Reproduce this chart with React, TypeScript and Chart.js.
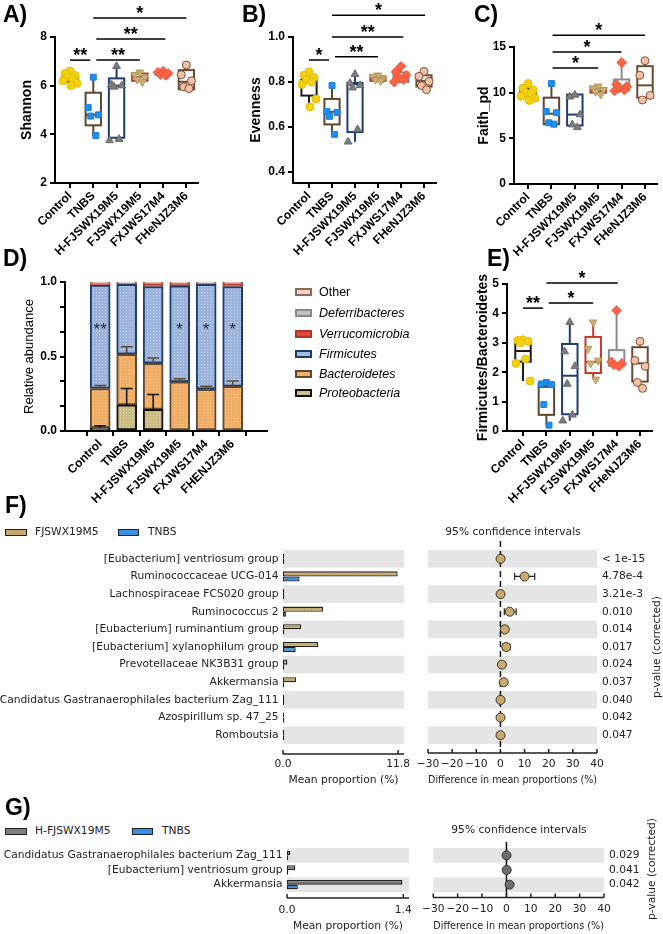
import React, { useEffect, useRef } from "react";
import { Chart, registerables } from "chart.js";

Chart.register(...registerables);

const SANS = "'Liberation Sans', Arial, Helvetica, sans-serif";
const DEJAVU = "'DejaVu Sans', Verdana, sans-serif";
Chart.defaults.font.family = SANS;
Chart.defaults.color = "#000";

// ---------------- categories ----------------
const GROUPS = ["Control", "TNBS", "H-FJSWX19M5", "FJSWX19M5", "FXJWS17M4", "FHeNJZ3M6"];
const GROUPS_D = ["Control", "TNBS", "H-FJSWX19M5", "FJSWX19M5", "FXJWS17M4", "FHENJZ3M6"];

// ---------------- A) Shannon ----------------
const SHANNON_CONTROL = [6.6, 6.5, 6.42, 6.35, 6.3, 6.2, 6.1, 6.0];
const SHANNON_TNBS = [6.35, 5.1, 4.8, 4.75, 3.95];
const SHANNON_HFJ = [6.8, 6.05, 6.0, 5.95, 3.8, 3.75];
const SHANNON_FJSW = [6.55, 6.45, 6.35, 6.25, 6.15];
const SHANNON_FXJ = [6.6, 6.55, 6.5, 6.45, 6.42];
const SHANNON_FHE = [6.85, 6.45, 6.2, 5.95, 5.88];
const SHANNON_Q1 = [6.15, 4.37, 3.86, 6.2, 6.45, 5.85];
const SHANNON_MEDIAN = [6.3, 4.8, 6.0, 6.35, 6.5, 6.16];
const SHANNON_Q3 = [6.45, 5.71, 6.3, 6.5, 6.56, 6.64];
const SHANNON_TICKS = [2, 4, 6, 8];

// ---------------- B) Evenness ----------------
const EVEN_CONTROL = [0.845, 0.83, 0.82, 0.81, 0.8, 0.79, 0.725, 0.69];
const EVEN_TNBS = [0.785, 0.67, 0.665, 0.648, 0.568];
const EVEN_HFJ = [0.835, 0.795, 0.785, 0.775, 0.59, 0.535];
const EVEN_FJSW = [0.83, 0.825, 0.815, 0.81, 0.805];
const EVEN_FXJ = [0.87, 0.845, 0.83, 0.82, 0.81, 0.8];
const EVEN_FHE = [0.847, 0.825, 0.803, 0.784, 0.766];
const EVEN_Q1 = [0.74, 0.612, 0.578, 0.805, 0.8, 0.78];
const EVEN_MEDIAN = [0.8, 0.668, 0.79, 0.815, 0.82, 0.805];
const EVEN_Q3 = [0.81, 0.725, 0.796, 0.825, 0.843, 0.83];
const EVEN_TICKS = [0.4, 0.6, 0.8, 1.0];

// ---------------- C) Faith_pd ----------------
const FAITH_CONTROL = [11.0, 10.5, 10.3, 10.0, 9.9, 9.6, 9.4, 9.15];
const FAITH_TNBS = [11.0, 7.95, 7.8, 6.7, 6.55];
const FAITH_HFJ = [9.75, 9.55, 7.6, 6.5, 6.2];
const FAITH_FJSW = [10.7, 10.5, 10.3, 10.1, 9.8];
const FAITH_FXJ = [13.3, 10.9, 10.7, 10.5, 10.3, 10.2];
const FAITH_FHE = [13.5, 11.9, 9.7, 9.2];
const FAITH_Q1 = [9.6, 6.55, 6.4, 10.0, 10.25, 9.45];
const FAITH_MEDIAN = [10.0, 7.7, 7.6, 10.2, 10.6, 10.8];
const FAITH_Q3 = [10.4, 9.45, 9.8, 10.5, 11.45, 12.9];
const FAITH_TICKS = [0, 5, 10, 15];

// ---------------- E) Firmicutes/Bacteroidetes ----------------
const FB_CONTROL = [3.1, 3.08, 3.05, 3.0, 2.45, 2.3, 1.7];
const FB_TNBS = [1.65, 1.6, 1.58, 0.9, 0.2];
const FB_HFJ = [3.7, 2.7, 2.2, 1.6, 0.55, 0.35];
const FB_FJSW = [3.7, 2.8, 2.4, 2.3, 1.75];
const FB_FXJ = [4.1, 2.35, 2.3, 2.25, 2.2];
const FB_FHE = [3.05, 2.4, 2.2, 1.65, 1.45];
const FB_Q1 = [2.36, 0.55, 0.57, 1.97, 2.22, 1.68];
const FB_MEDIAN = [2.72, 1.5, 1.88, 2.35, 2.3, 2.3];
const FB_Q3 = [3.0, 1.6, 2.96, 3.2, 2.75, 2.85];
const FB_TICKS = [0, 1, 2, 3, 4, 5];

// ---------------- D) Relative abundance (stacked) ----------------
const D_PROTEO = [0.02, 0.175, 0.145, 0.0, 0.0, 0.0];
const D_BACTERO = [0.265, 0.34, 0.31, 0.33, 0.28, 0.3];
const D_FIRMI = [0.695, 0.47, 0.515, 0.645, 0.705, 0.67];
const D_VERRU = [0.008, 0.005, 0.015, 0.015, 0.005, 0.015];
const D_DEFER = [0.002, 0.002, 0.003, 0.002, 0.002, 0.003];
const D_OTHER = [0.01, 0.008, 0.012, 0.008, 0.008, 0.012];
const D_PROTEO_ERR = [0.015, 0.11, 0.1, 0, 0, 0];
const D_BACTERO_ERR = [0.02, 0.05, 0.035, 0.02, 0.02, 0.035];
const D_STARS = ["**", "", "", "*", "*", "*"];
const D_STAR_LEVEL = 0.71;
const D_TICKS = [0, 0.5, 1.0];
const D_MINOR_TICKS = [1 / 6, 2 / 6, 4 / 6, 5 / 6];
const D_PHYLA = ["Other", "Deferribacteres", "Verrucomicrobia", "Firmicutes", "Bacteroidetes", "Proteobacteria"];

// ---------------- F) FJSWX19M5 vs TNBS ----------------
const F_TAXA = [
  "[Eubacterium] ventriosum group",
  "Ruminococcaceae UCG-014",
  "Lachnospiraceae FCS020 group",
  "Ruminococcus 2",
  "[Eubacterium] ruminantium group",
  "[Eubacterium] xylanophilum group",
  "Prevotellaceae NK3B31 group",
  "Akkermansia",
  "Candidatus Gastranaerophilales bacterium Zag_111",
  "Azospirillum sp. 47_25",
  "Romboutsia",
];
const F_FJSW_MEAN = [0.05, 11.75, 0.05, 4.1, 1.85, 3.6, 0.45, 1.35, 0.05, 0.02, 0.05];
const F_TNBS_MEAN = [0.0, 1.7, 0.0, 0.3, 0.05, 1.3, 0.05, 0.1, 0.0, 0.0, 0.02];
const F_DIFF = [0.05, 10.0, 0.05, 3.85, 1.8, 2.4, 0.6, 1.35, 0.05, 0.02, 0.03];
const F_CI_LO = [-0.1, 5.9, -0.1, 1.6, 0.6, 0.9, 0.0, 0.4, -0.1, -0.1, -0.1];
const F_CI_HI = [0.2, 14.2, 0.2, 6.5, 3.0, 3.9, 1.2, 2.2, 0.2, 0.15, 0.2];
const F_PVALS = ["< 1e-15", "4.78e-4", "3.21e-3", "0.010", "0.014", "0.017", "0.024", "0.037", "0.040", "0.042", "0.047"];
const F_MEAN_TICKS = [0, 11.8];
const DIFF_TICKS = [-30, -20, -10, 0, 10, 20, 30, 40];

// ---------------- G) H-FJSWX19M5 vs TNBS ----------------
const G_TAXA = ["Candidatus Gastranaerophilales bacterium Zag_111", "[Eubacterium] ventriosum group", "Akkermansia"];
const G_HFJ_MEAN = [0.04, 0.1, 1.39];
const G_TNBS_MEAN = [0.0, 0.0, 0.13];
const G_DIFF = [0.03, 0.08, 1.3];
const G_CI_LO = [0.0, 0.02, 0.4];
const G_CI_HI = [0.06, 0.14, 2.2];
const G_PVALS = ["0.029", "0.041", "0.042"];
const G_MEAN_TICKS = [0, 1.4];

// ---------------- styles ----------------
const PT_STYLE = ["circle", "rect", "triangle", "triangle", "rectRot", "circle"];
const PT_ROT = [0, 0, 0, 180, 0, 0];
const PT_FILL = ["#f5d20f", "#1e8ff0", "#7c7c7c", "#c8b07a", "#ff6347", "#f3c2a6"];
const PT_EDGE = ["#e2bd00", "#1a7fd6", "#6a6a6a", "#b09858", "#f0553a", "#7a5238"];
const PT_RADIUS = [4, 4.2, 4.5, 4.5, 4.8, 4];
const BOX_COLOR = ["#1a1a1a", "#5b4630", "#1f3d6e", "#c0392b", "#8c8c8c", "#6b4a32"];
const JITTER = [0, -0.22, 0.22, -0.11, 0.11, -0.3, 0.3, 0.04];
const BOX_HALF = 0.33;
const LBL = 10.7;

const fixW = (w: number) => (s: any) => {
  s.width = w;
  s.paddingTop = 0; s.paddingBottom = 0; s.paddingLeft = 0; s.paddingRight = 0;
};
const fixH = (h: number) => (s: any) => {
  s.height = h;
  s.paddingTop = 0; s.paddingBottom = 0; s.paddingLeft = 0; s.paddingRight = 0;
};

function stipple(base: string, dot: string) {
  const c = document.createElement("canvas");
  c.width = 3; c.height = 3;
  const g = c.getContext("2d")!;
  g.fillStyle = base; g.fillRect(0, 0, 3, 3);
  g.fillStyle = dot; g.fillRect(0, 0, 1, 1);
  return g.createPattern(c, "repeat");
}

// ---------------- plugins ----------------
function boxPlugin(points: number[][], q1: number[], med: number[], q3: number[]) {
  return {
    id: "boxes",
    beforeDatasetsDraw(chart: any) {
      const { ctx } = chart;
      const xs = chart.scales.x, ys = chart.scales.y;
      ctx.save();
      points.forEach((pts, i) => {
        const cx = xs.getPixelForValue(i);
        const xl = xs.getPixelForValue(i - BOX_HALF), xr = xs.getPixelForValue(i + BOX_HALF);
        const lo = Math.min(...pts), hi = Math.max(...pts);
        ctx.strokeStyle = BOX_COLOR[i];
        ctx.lineWidth = 2;
        const yt = ys.getPixelForValue(q3[i]), yb = ys.getPixelForValue(q1[i]);
        ctx.beginPath();
        ctx.moveTo(cx, ys.getPixelForValue(hi)); ctx.lineTo(cx, yt);
        ctx.moveTo(cx, yb); ctx.lineTo(cx, ys.getPixelForValue(lo));
        ctx.stroke();
        ctx.strokeRect(xl, yt, xr - xl, yb - yt);
        const ym = ys.getPixelForValue(med[i]);
        ctx.beginPath(); ctx.moveTo(xl, ym); ctx.lineTo(xr, ym); ctx.stroke();
      });
      ctx.restore();
    },
  };
}

type Bracket = { from: number; to: number; y: number; text: string };
function bracketPlugin(brackets: Bracket[]) {
  return {
    id: "brackets",
    afterDraw(chart: any) {
      const { ctx } = chart;
      const xs = chart.scales.x, ys = chart.scales.y;
      ctx.save();
      ctx.strokeStyle = "#000"; ctx.fillStyle = "#000"; ctx.lineWidth = 1.5;
      ctx.font = `bold 18px ${SANS}`; ctx.textAlign = "center"; ctx.textBaseline = "alphabetic";
      brackets.forEach((b) => {
        const x1 = xs.getPixelForValue(b.from), x2 = xs.getPixelForValue(b.to), y = ys.getPixelForValue(b.y);
        ctx.beginPath(); ctx.moveTo(x1, y); ctx.lineTo(x2, y); ctx.stroke();
        ctx.fillText(b.text, (x1 + x2) / 2, y + 1);
      });
      ctx.restore();
    },
  };
}

function boxPanel(p: {
  points: number[][]; q1: number[]; med: number[]; q3: number[];
  yMin: number; yMax: number; yTicks: number[]; digits: number;
  title: string; titlePad: number; xMin: number; xMax: number;
  yWidth: number; xHeight: number; padTop: number; padRight: number; brackets: Bracket[];
}) {
  return () => ({
    type: "scatter",
    data: {
      datasets: p.points.map((pts, g) => ({
        data: pts.map((v, k) => ({ x: g + JITTER[k % JITTER.length], y: v })),
        pointStyle: PT_STYLE[g], pointRotation: PT_ROT[g], pointRadius: PT_RADIUS[g],
        pointBackgroundColor: PT_FILL[g], pointBorderColor: PT_EDGE[g], pointBorderWidth: 1, clip: false,
      })),
    },
    options: {
      responsive: false, animation: false, events: [],
      layout: { padding: { top: p.padTop, right: p.padRight, left: 0, bottom: 0 } },
      plugins: { legend: { display: false }, tooltip: { enabled: false } },
      scales: {
        x: {
          type: "linear", min: p.xMin, max: p.xMax,
          afterBuildTicks: (s: any) => { s.ticks = GROUPS.map((_, i) => ({ value: i })); },
          ticks: { callback: (v: number) => GROUPS[v], minRotation: 45, maxRotation: 45, autoSkip: false, font: { size: 12, weight: "bold" }, color: "#000", padding: 1 },
          grid: { display: true, drawOnChartArea: false, drawTicks: true, tickLength: 5, color: "#000", lineWidth: 2 },
          border: { display: true, color: "#000", width: 2 },
          afterFit: fixH(p.xHeight),
        },
        y: {
          min: p.yMin, max: p.yMax,
          afterBuildTicks: (s: any) => { s.ticks = p.yTicks.map((v) => ({ value: v })); },
          ticks: { callback: (v: number) => v.toFixed(p.digits), font: { size: 12, weight: "bold" }, color: "#000", padding: 3 },
          grid: { display: true, drawOnChartArea: false, drawTicks: true, tickLength: 5, color: "#000", lineWidth: 2 },
          border: { display: true, color: "#000", width: 2 },
          title: { display: true, text: p.title, font: { size: 14, weight: "bold" }, color: "#000", padding: { top: p.titlePad, bottom: 0 } },
          afterFit: fixW(p.yWidth),
        },
      },
    },
    plugins: [boxPlugin(p.points, p.q1, p.med, p.q3), bracketPlugin(p.brackets)],
  });
}

function stackedPanel() {
  const sets = [
    { label: "Proteobacteria", data: D_PROTEO, fill: stipple("#c9bc82", "#ddd3a8"), edge: "#111" },
    { label: "Bacteroidetes", data: D_BACTERO, fill: stipple("#f0ad63", "#f8cd98"), edge: "#5d4a36" },
    { label: "Firmicutes", data: D_FIRMI, fill: stipple("#9cb4dc", "#c6d5ee"), edge: "#1e3c6e" },
    { label: "Verrucomicrobia", data: D_VERRU, fill: "#e0483c", edge: "#c0392b" },
    { label: "Deferribacteres", data: D_DEFER, fill: "#c0c0c0", edge: "#888" },
    { label: "Other", data: D_OTHER, fill: "#f4d2c4", edge: "#8a6a52" },
  ];
  const allTicks = [...D_TICKS, ...D_MINOR_TICKS].sort((a, b) => a - b);
  const errPlugin = {
    id: "derr",
    afterDatasetsDraw(chart: any) {
      const { ctx } = chart;
      const xs = chart.scales.x, ys = chart.scales.y;
      ctx.save();
      GROUPS_D.forEach((_, i) => {
        const cx = xs.getPixelForValue(i);
        const bar = (base: number, err: number, color: string) => {
          if (err <= 0) return;
          const y0 = ys.getPixelForValue(base), y1 = ys.getPixelForValue(base + err);
          ctx.strokeStyle = color; ctx.lineWidth = 1.5;
          ctx.beginPath(); ctx.moveTo(cx, y0); ctx.lineTo(cx, y1);
          ctx.moveTo(cx - 6, y1); ctx.lineTo(cx + 6, y1); ctx.stroke();
        };
        bar(D_PROTEO[i], D_PROTEO_ERR[i], "#111");
        bar(D_PROTEO[i] + D_BACTERO[i], D_BACTERO_ERR[i], "#5d4a36");
        if (D_STARS[i]) {
          ctx.fillStyle = "#2a2a3a"; ctx.font = `17px ${SANS}`; ctx.textAlign = "center"; ctx.textBaseline = "alphabetic";
          ctx.fillText(D_STARS[i], cx, ys.getPixelForValue(D_STAR_LEVEL) + 10);
        }
      });
      ctx.restore();
    },
  };
  return {
    type: "bar",
    data: {
      datasets: sets.map((s) => ({
        label: s.label, data: s.data.map((v, i) => ({ x: i, y: v })),
        backgroundColor: s.fill, borderColor: s.edge, borderWidth: 2, borderSkipped: false, barThickness: 20, clip: false,
      })),
    },
    options: {
      responsive: false, animation: false, events: [],
      layout: { padding: { top: 32, right: 23, left: 0, bottom: 0 } },
      plugins: { legend: { display: false }, tooltip: { enabled: false } },
      scales: {
        x: {
          type: "linear", stacked: true, min: -0.692, max: 5.66,
          afterBuildTicks: (s: any) => { s.ticks = GROUPS_D.map((_, i) => ({ value: i })); },
          ticks: { callback: (v: number) => GROUPS_D[v], minRotation: 45, maxRotation: 45, autoSkip: false, font: { size: 12, weight: "bold" }, color: "#000", padding: 1 },
          grid: { display: true, drawOnChartArea: false, drawTicks: true, tickLength: 5, color: "#000", lineWidth: 2 },
          border: { display: true, color: "#000", width: 2 },
          afterFit: fixH(99),
        },
        y: {
          stacked: true, min: 0, max: 1,
          afterBuildTicks: (s: any) => { s.ticks = allTicks.map((v) => ({ value: v })); },
          ticks: { autoSkip: false, callback: (v: number) => (D_TICKS.some((t) => Math.abs(t - v) < 1e-9) ? v.toFixed(1) : ""), font: { size: 12, weight: "bold" }, color: "#000", padding: 3 },
          grid: { display: true, drawOnChartArea: false, drawTicks: true, tickLength: 5, color: "#000", lineWidth: 2 },
          border: { display: true, color: "#000", width: 2 },
          title: { display: true, text: "Relative abundance", font: { size: 13 }, color: "#000", padding: { top: 22, bottom: 0 } },
          afterFit: fixW(65),
        },
      },
    },
    plugins: [errPlugin],
  };
}

function bandsPlugin(n: number) {
  return {
    id: "bands",
    beforeDatasetsDraw(chart: any) {
      const { ctx, chartArea: ca } = chart;
      const ys = chart.scales.y;
      const step = Math.abs(ys.getPixelForValue(1) - ys.getPixelForValue(0));
      ctx.save(); ctx.fillStyle = "#e5e5e5";
      for (let i = 0; i < n; i += 2) {
        const c = ys.getPixelForValue(i);
        ctx.fillRect(ca.left, c - step / 2, ca.right - ca.left, step);
      }
      ctx.restore();
    },
  };
}

function offsetAxisPlugin(offset: number, ticks: number[]) {
  return {
    id: "offAxis",
    afterDraw(chart: any) {
      const { ctx, chartArea: ca } = chart;
      const xs = chart.scales.x;
      const y = ca.bottom + offset;
      ctx.save(); ctx.strokeStyle = "#222"; ctx.lineWidth = 1.5;
      ctx.beginPath(); ctx.moveTo(ca.left, y); ctx.lineTo(ca.right, y);
      ticks.forEach((v) => { const x = xs.getPixelForValue(v); ctx.moveTo(x, y); ctx.lineTo(x, y - 4); });
      ctx.stroke(); ctx.restore();
    },
  };
}

function meanPanel(p: {
  taxa: string[]; a: number[]; b: number[]; aFill: any; bFill: string; max: number; ticks: number[];
  yWidth: number; xHeight: number; padTop: number; padRight: number; labelPad: number; titleBottom: number; axisOffset: number; catPct: number;
}) {
  return () => ({
    type: "bar",
    data: {
      labels: p.taxa,
      datasets: [
        { data: p.a, backgroundColor: p.aFill, borderColor: "#222", borderWidth: 1.3, borderSkipped: false, minBarLength: 1.3, categoryPercentage: p.catPct, barPercentage: 1 },
        { data: p.b, backgroundColor: p.bFill, borderColor: "#222", borderWidth: 1.3, borderSkipped: false, minBarLength: 1.3, categoryPercentage: p.catPct, barPercentage: 1 },
      ],
    },
    options: {
      indexAxis: "y", responsive: false, animation: false, events: [],
      layout: { padding: { top: p.padTop, right: p.padRight, left: 0, bottom: 0 } },
      plugins: { legend: { display: false }, tooltip: { enabled: false } },
      scales: {
        x: {
          min: 0, max: p.max,
          afterBuildTicks: (s: any) => { s.ticks = p.ticks.map((v) => ({ value: v })); },
          ticks: { callback: (v: number) => v.toFixed(1), minRotation: 0, maxRotation: 0, autoSkip: false, font: { family: DEJAVU, size: LBL }, color: "#222", padding: p.labelPad },
          grid: { display: false, drawTicks: false }, border: { display: false },
          title: { display: true, text: "Mean proportion (%)", font: { family: DEJAVU, size: LBL }, color: "#222", padding: { top: 0, bottom: p.titleBottom } },
          afterFit: fixH(p.xHeight),
        },
        y: {
          grid: { display: false, drawTicks: false }, border: { display: false },
          ticks: { autoSkip: false, font: { family: DEJAVU, size: LBL }, color: "#222", padding: 4.5 },
          afterFit: fixW(p.yWidth),
        },
      },
    },
    plugins: [bandsPlugin(p.taxa.length), offsetAxisPlugin(p.axisOffset, p.ticks)],
  });
}

function ciPanel(p: {
  taxa: string[]; pvals: string[]; diff: number[]; lo: number[]; hi: number[]; fill: string; edge: string;
  padTop: number; padLeft: number; y2Width: number; xHeight: number; labelPad: number; titleBottom: number;
  axisOffset: number; dashed: boolean; zeroTop: number;
}) {
  const ciPlugin = {
    id: "ci",
    beforeDatasetsDraw(chart: any) {
      const { ctx, chartArea: ca } = chart;
      const xs = chart.scales.x, ys = chart.scales.y;
      const step = Math.abs(ys.getPixelForValue(1) - ys.getPixelForValue(0));
      ctx.save();
      ctx.fillStyle = "#e5e5e5";
      for (let i = 0; i < p.taxa.length; i += 2) {
        const c = ys.getPixelForValue(i);
        ctx.fillRect(ca.left, c - step / 2, ca.right - ca.left, step);
      }
      const x0 = xs.getPixelForValue(0);
      ctx.strokeStyle = "#111"; ctx.lineWidth = 1.5;
      if (p.dashed) ctx.setLineDash([6, 4]);
      ctx.beginPath(); ctx.moveTo(x0, ca.top - p.zeroTop); ctx.lineTo(x0, ca.bottom + p.axisOffset); ctx.stroke();
      ctx.setLineDash([]);
      ctx.strokeStyle = "#222"; ctx.lineWidth = 1.2;
      p.diff.forEach((_, i) => {
        const y = ys.getPixelForValue(i);
        const a = xs.getPixelForValue(p.lo[i]), b = xs.getPixelForValue(p.hi[i]);
        ctx.beginPath(); ctx.moveTo(a, y); ctx.lineTo(b, y);
        ctx.moveTo(a, y - 3.5); ctx.lineTo(a, y + 3.5); ctx.moveTo(b, y - 3.5); ctx.lineTo(b, y + 3.5);
        ctx.stroke();
      });
      ctx.restore();
    },
  };
  return () => ({
    type: "scatter",
    data: {
      datasets: [{
        data: p.diff.map((v, i) => ({ x: v, y: p.taxa[i] })),
        pointRadius: 4.5, pointBackgroundColor: p.fill, pointBorderColor: p.edge, pointBorderWidth: 1, clip: false,
      }],
    },
    options: {
      responsive: false, animation: false, events: [],
      layout: { padding: { top: p.padTop, left: p.padLeft, right: 0, bottom: 0 } },
      plugins: { legend: { display: false }, tooltip: { enabled: false } },
      scales: {
        x: {
          type: "linear", min: -30, max: 40,
          afterBuildTicks: (s: any) => { s.ticks = DIFF_TICKS.map((v) => ({ value: v })); },
          ticks: { callback: (v: number) => (v < 0 ? "\u2212" + Math.abs(v) : String(v)), minRotation: 0, maxRotation: 0, autoSkip: false, font: { family: DEJAVU, size: LBL }, color: "#222", padding: p.labelPad },
          grid: { display: false, drawTicks: false }, border: { display: false },
          title: { display: true, text: "Difference in mean proportions (%)", font: { family: DEJAVU, size: LBL }, color: "#222", padding: { top: 0, bottom: p.titleBottom } },
          afterFit: fixH(p.xHeight),
        },
        y: { type: "category", labels: p.taxa, offset: true, display: false },
        y2: {
          type: "category", labels: p.pvals, offset: true, position: "right",
          grid: { display: false, drawTicks: false }, border: { display: false },
          ticks: { autoSkip: false, font: { family: DEJAVU, size: LBL }, color: "#222", padding: 5 },
          afterFit: fixW(p.y2Width),
        },
      },
    },
    plugins: [ciPlugin, offsetAxisPlugin(p.axisOffset, DIFF_TICKS)],
  });
}

// ---------------- components ----------------
function Panel({ left, top, width, height, make }: any) {
  const ref = useRef<HTMLCanvasElement>(null);
  useEffect(() => {
    const chart = new Chart(ref.current as HTMLCanvasElement, make());
    return () => chart.destroy();
  }, []);
  return <canvas ref={ref} width={width} height={height} style={{ position: "absolute", left, top, width, height }} />;
}

function Txt({ x, y, children, align = "left", size = 12, weight = "normal", family = SANS, italic = false, color = "#000", rotate = 0 }: any) {
  const tx = align === "center" ? "-50%" : align === "right" ? "-100%" : "0";
  return (
    <div style={{
      position: "absolute", left: x, top: y, whiteSpace: "nowrap",
      transform: `translate(${tx},-50%)${rotate ? ` rotate(${rotate}deg)` : ""}`,
      fontFamily: family, fontSize: size, fontWeight: weight, fontStyle: italic ? "italic" : "normal", color, lineHeight: 1.15,
    }}>{children}</div>
  );
}

function Swatch({ x, y, w, h, fill, edge, bw = 2 }: any) {
  return <div style={{ position: "absolute", left: x, top: y - h / 2, width: w, height: h, background: fill, border: `${bw}px solid ${edge}`, boxSizing: "border-box" }} />;
}

const D_LEGEND_FILL = ["#f4d2c4", "#c4c4c4", "#e0483c", "#a3bbe0", "#f2b068", "#cdbf86"];
const D_LEGEND_EDGE = ["#8a6a52", "#8a8a8a", "#b5322a", "#1e3c6e", "#5d4a36", "#111"];
const D_LEGEND_ITALIC = [false, true, true, true, true, true];

export default function App() {
  const makeA = boxPanel({
    points: [SHANNON_CONTROL, SHANNON_TNBS, SHANNON_HFJ, SHANNON_FJSW, SHANNON_FXJ, SHANNON_FHE],
    q1: SHANNON_Q1, med: SHANNON_MEDIAN, q3: SHANNON_Q3, yMin: 2, yMax: 8, yTicks: SHANNON_TICKS, digits: 0,
    title: "Shannon", titlePad: 19, xMin: -0.645, xMax: 5.5, yWidth: 55, xHeight: 77, padTop: 37, padRight: 23,
    brackets: [
      { from: 0, to: 0.87, y: 7.05, text: "**" },
      { from: 1.13, to: 3, y: 7.05, text: "**" },
      { from: 1.13, to: 4.1, y: 7.92, text: "**" },
      { from: 1, to: 5, y: 8.78, text: "*" },
    ],
  });
  const makeB = boxPanel({
    points: [EVEN_CONTROL, EVEN_TNBS, EVEN_HFJ, EVEN_FJSW, EVEN_FXJ, EVEN_FHE],
    q1: EVEN_Q1, med: EVEN_MEDIAN, q3: EVEN_Q3, yMin: 0.352, yMax: 1.0, yTicks: EVEN_TICKS, digits: 1,
    title: "Evenness", titlePad: 26.6, xMin: -0.696, xMax: 5.5, yWidth: 72, xHeight: 77, padTop: 37, padRight: 6.5,
    brackets: [
      { from: 0, to: 0.87, y: 0.898, text: "*" },
      { from: 1.13, to: 3, y: 0.912, text: "**" },
      { from: 1, to: 4.1, y: 1.0, text: "**" },
      { from: 1, to: 5.05, y: 1.097, text: "*" },
    ],
  });
  const makeC = boxPanel({
    points: [FAITH_CONTROL, FAITH_TNBS, FAITH_HFJ, FAITH_FJSW, FAITH_FXJ, FAITH_FHE],
    q1: FAITH_Q1, med: FAITH_MEDIAN, q3: FAITH_Q3, yMin: 0, yMax: 15, yTicks: FAITH_TICKS, digits: 0,
    title: "Faith_pd", titlePad: 33.6, xMin: -0.6, xMax: 5.5, yWidth: 72, xHeight: 76, padTop: 47, padRight: 6.3,
    brackets: [
      { from: 1.05, to: 3, y: 12.7, text: "*" },
      { from: 1.05, to: 4, y: 14.45, text: "*" },
      { from: 1.05, to: 5, y: 16.3, text: "*" },
    ],
  });
  const makeE = boxPanel({
    points: [FB_CONTROL, FB_TNBS, FB_HFJ, FB_FJSW, FB_FXJ, FB_FHE],
    q1: FB_Q1, med: FB_MEDIAN, q3: FB_Q3, yMin: 0, yMax: 5, yTicks: FB_TICKS, digits: 0,
    title: "Firmicutes/Bacteroidetes", titlePad: 24.6, xMin: -0.684, xMax: 5.5, yWidth: 57, xHeight: 99, padTop: 34, padRight: 11.3,
    brackets: [
      { from: 0, to: 0.85, y: 4.18, text: "**" },
      { from: 1.1, to: 3, y: 4.35, text: "*" },
      { from: 1, to: 4.05, y: 5.03, text: "*" },
    ],
  });
  const makeFL = () => meanPanel({
    taxa: F_TAXA, a: F_FJSW_MEAN, b: F_TNBS_MEAN, aFill: stipple("#c6a86c", "#d8c294"), bFill: "#3d8fe0",
    max: 12.4, ticks: F_MEAN_TICKS, yWidth: 283, xHeight: 51, padTop: 10, padRight: 6, labelPad: 14, titleBottom: 8.7, axisOffset: 10, catPct: 0.58,
  })();
  const makeFR = ciPanel({
    taxa: F_TAXA, pvals: F_PVALS, diff: F_DIFF, lo: F_CI_LO, hi: F_CI_HI, fill: "#c9ab70", edge: "#3a3020",
    padTop: 30, padLeft: 13, y2Width: 66, xHeight: 51, labelPad: 14, titleBottom: 8.7, axisOffset: 9, dashed: true, zeroTop: 9,
  });
  const makeGL = () => meanPanel({
    taxa: G_TAXA, a: G_HFJ_MEAN, b: G_TNBS_MEAN, aFill: "#7f7f7f", bFill: "#3d8fe0",
    max: 1.469, ticks: G_MEAN_TICKS, yWidth: 287, xHeight: 42, padTop: 10, padRight: 6, labelPad: 12, titleBottom: 1, axisOffset: 6, catPct: 0.64,
  })();
  const makeGR = ciPanel({
    taxa: G_TAXA, pvals: G_PVALS, diff: G_DIFF, lo: G_CI_LO, hi: G_CI_HI, fill: "#6e6e6e", edge: "#333",
    padTop: 28, padLeft: 18.3, y2Width: 59, xHeight: 42, labelPad: 11, titleBottom: 1, axisOffset: 5.5, dashed: false, zeroTop: 6,
  });

  const dRows = [292, 313, 333.5, 353.5, 373.5, 393];

  return (
    <div style={{ position: "absolute", left: 0, top: 0, width: 663, height: 934, background: "#fff", overflow: "hidden" }}>
      <Panel left={0} top={0} width={221} height={260} make={makeA} />
      <Panel left={221} top={0} width={221} height={260} make={makeB} />
      <Panel left={442} top={0} width={221} height={260} make={makeC} />
      <Panel left={0} top={250} width={290} height={280} make={stackedPanel} />
      <Panel left={450} top={250} width={213} height={280} make={makeE} />
      <Panel left={0} top={540} width={410} height={255} make={makeFL} />
      <Panel left={415} top={520} width={248} height={275} make={makeFR} />
      <Panel left={0} top={838} width={415} height={96} make={makeGL} />
      <Panel left={415} top={820} width={248} height={114} make={makeGR} />

      <Txt x={3} y={14} size={23} weight="bold">A)</Txt>
      <Txt x={242} y={14} size={23} weight="bold">B)</Txt>
      <Txt x={474} y={14} size={23} weight="bold">C)</Txt>
      <Txt x={3} y={258} size={23} weight="bold">D)</Txt>
      <Txt x={487} y={258} size={23} weight="bold">E)</Txt>
      <Txt x={5} y={505} size={23} weight="bold">F)</Txt>
      <Txt x={5} y={807} size={23} weight="bold">G)</Txt>

      {D_PHYLA.map((name, i) => (
        <React.Fragment key={name}>
          <Swatch x={295} y={dRows[i]} w={17} h={8} fill={D_LEGEND_FILL[i]} edge={D_LEGEND_EDGE[i]} />
          <Txt x={319} y={dRows[i]} size={12.5} italic={D_LEGEND_ITALIC[i]}>{name}</Txt>
        </React.Fragment>
      ))}

      <Swatch x={5} y={532} w={22} h={7} fill="#c6a86c" edge="#222" bw={1.3} />
      <Txt x={35} y={532} size={LBL} family={DEJAVU} color="#222">FJSWX19M5</Txt>
      <Swatch x={118} y={532} w={21} h={7} fill="#3d8fe0" edge="#222" bw={1.3} />
      <Txt x={148} y={532} size={LBL} family={DEJAVU} color="#222">TNBS</Txt>
      <Txt x={513} y={532} size={LBL} family={DEJAVU} color="#222" align="center">95% confidence intervals</Txt>
      <Txt x={657} y={647} size={LBL} family={DEJAVU} color="#222" align="center" rotate={-90}>p-value (corrected)</Txt>

      <Swatch x={5} y={831} w={22} h={7} fill="#7f7f7f" edge="#222" bw={1.3} />
      <Txt x={35} y={831} size={LBL} family={DEJAVU} color="#222">H-FJSWX19M5</Txt>
      <Swatch x={132} y={831} w={21} h={7} fill="#3d8fe0" edge="#222" bw={1.3} />
      <Txt x={162} y={831} size={LBL} family={DEJAVU} color="#222">TNBS</Txt>
      <Txt x={519} y={830} size={LBL} family={DEJAVU} color="#222" align="center">95% confidence intervals</Txt>
      <Txt x={652} y={869} size={LBL} family={DEJAVU} color="#222" align="center" rotate={-90}>p-value (corrected)</Txt>
    </div>
  );
}
